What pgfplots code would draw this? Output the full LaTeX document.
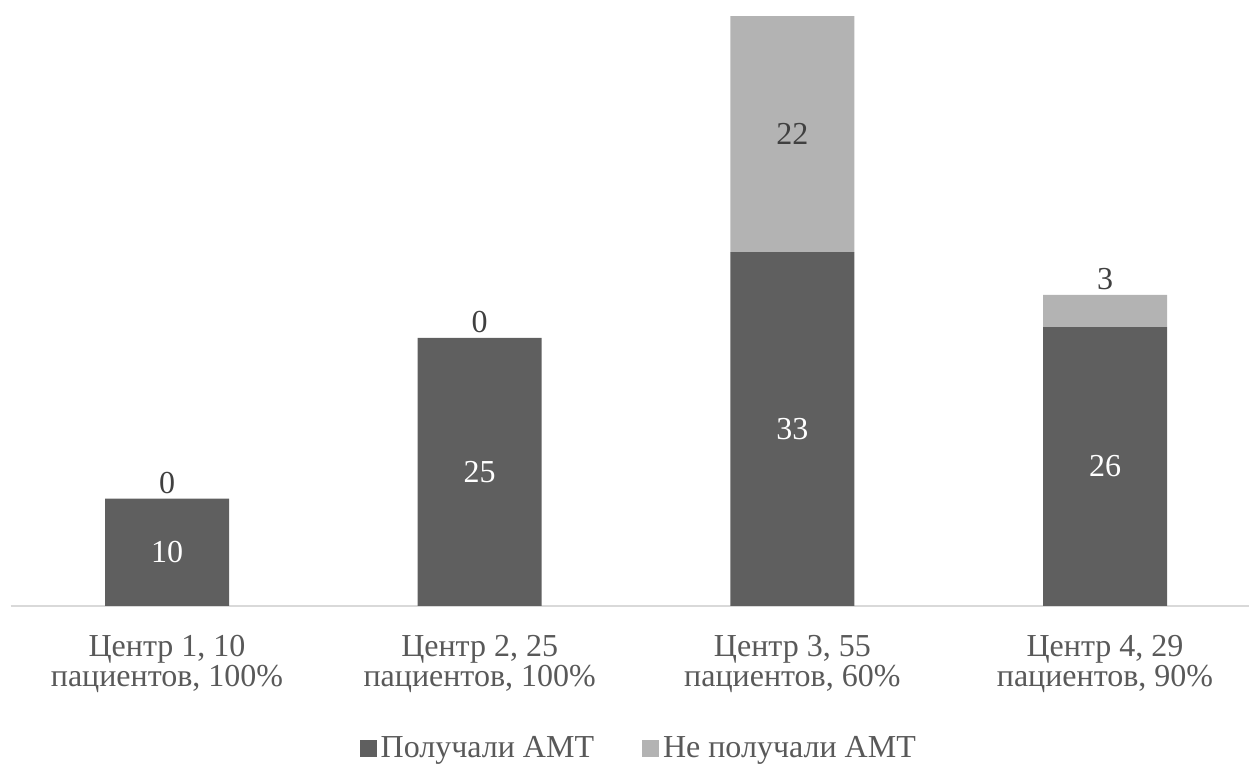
\documentclass[border=0pt]{standalone}
\usepackage{fontspec}
\setmainfont{Liberation Serif}
\usepackage{pgfplots}
\usepackage{pgfplotstable}
\pgfplotsset{compat=1.18}

\definecolor{darkbar}{HTML}{5F5F5F}
\definecolor{lightbar}{HTML}{B3B3B3}
\definecolor{axisgray}{HTML}{D9D9D9}
\definecolor{labelgray}{HTML}{595959}
\definecolor{valuegray}{HTML}{404040}

% patients per centre: received / did not receive
\pgfplotstableread{
x got notgot
0 10 0
1 25 0
2 33 22
3 26 3
}\centres

\pgfplotsset{
  common/.style={
    scale only axis,
    width=619.15pt, height=303pt,
    at={(0,0)}, anchor=south west,
    xmin=-0.5, xmax=3.4605,
    ymin=0, ymax=56.5,
  },
}

\begin{document}
\begin{tikzpicture}
\begin{axis}[
  common,
  ybar stacked,
  bar width=62pt,
  axis x line*=bottom,
  axis y line=none,
  x axis line style={axisgray, line width=0.8pt, -},
  xtick={0,1,2,3},
  xtick style={draw=none},
  xticklabels={{Центр 1, 10\\пациентов, 100\%},
               {Центр 2, 25\\пациентов, 100\%},
               {Центр 3, 55\\пациентов, 60\%},
               {Центр 4, 29\\пациентов, 90\%}},
  xticklabel style={align=center, text=labelgray,
    font=\fontsize{16}{15}\selectfont, anchor=base, yshift=-40.5pt},
  legend style={at={(0.508,-0.235)}, anchor=center, draw=none,
    fill=none, legend columns=2,
    font=\fontsize{16}{18}\selectfont, text=labelgray,
    /tikz/every even column/.append style={column sep=22pt}},
  legend image code/.code={\fill[#1] (0pt,-4.2pt) rectangle (8.5pt,4.3pt);},
]
\addplot[fill=darkbar, draw=none] table[x=x, y=got] {\centres};
\addlegendentry{Получали АМТ}
\addplot[fill=lightbar, draw=none] table[x=x, y=notgot] {\centres};
\addlegendentry{Не получали АМТ}
\end{axis}

% value labels
\begin{axis}[
  common,
  hide axis,
  nodes near coords,
  point meta=explicit symbolic,
]
\addplot[draw=none, mark=none,
  every node near coord/.append style={anchor=center, text=white,
    font=\fontsize{16}{18}\selectfont}]
  coordinates {(0,5) [10] (1,12.5) [25] (2,16.5) [33] (3,13) [26]};
\addplot[draw=none, mark=none,
  every node near coord/.append style={anchor=center, text=valuegray,
    font=\fontsize{16}{18}\selectfont}]
  coordinates {(2,44) [22]};
\addplot[draw=none, mark=none,
  every node near coord/.append style={anchor=base, yshift=2.5pt,
    text=valuegray, font=\fontsize{16}{18}\selectfont}]
  coordinates {(0,10) [0] (1,25) [0] (3,29) [3]};
\end{axis}

\pgfresetboundingbox
\path[use as bounding box] (-5.35pt,-79pt) rectangle (619.15pt,303pt);
\end{tikzpicture}
\end{document}
